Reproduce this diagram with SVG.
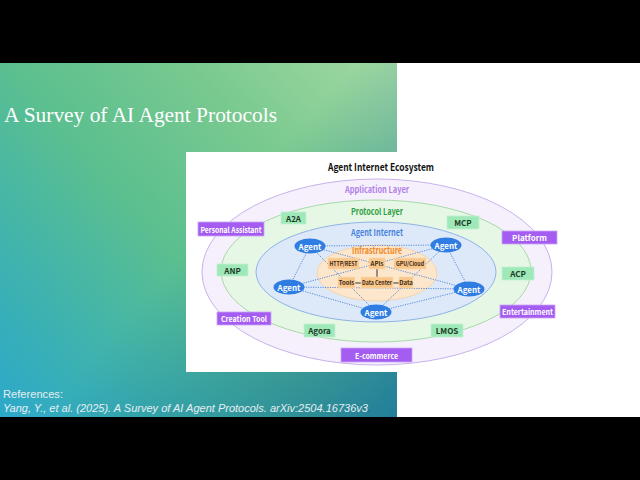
<svg xmlns="http://www.w3.org/2000/svg" width="640" height="480" viewBox="0 0 640 480">
<defs>
<linearGradient id="bg" gradientUnits="userSpaceOnUse" x1="397" y1="63" x2="0" y2="417">
<stop offset="0" stop-color="#a3d9a3"/>
<stop offset="0.3" stop-color="#78c98f"/>
<stop offset="0.55" stop-color="#5bbf8f"/>
<stop offset="0.8" stop-color="#3db2b0"/>
<stop offset="1" stop-color="#2ca8ca"/>
</linearGradient>
<linearGradient id="shade" gradientUnits="userSpaceOnUse" x1="0" y1="63" x2="397" y2="417">
<stop offset="0" stop-color="#0f6d9c" stop-opacity="0"/>
<stop offset="0.5" stop-color="#0f6d9c" stop-opacity="0"/>
<stop offset="1" stop-color="#0f6d9c" stop-opacity="0.8"/>
</linearGradient>
<style>
.lbl{font-family:"Noto Sans CJK SC","Noto Sans",sans-serif;font-weight:700;text-anchor:middle;dominant-baseline:central}
.app rect{fill:#a45df0;stroke:#c9a6f6;stroke-width:0.8}
.app text{fill:#ffffff;font-size:8px}
.pro rect{fill:#9fe8b8;stroke:#c2f0d2;stroke-width:0.8}
.pro text{fill:#1b3a25;font-size:8px}
.inf rect{fill:#f9c68c;stroke:#fbd9b0;stroke-width:0.6}
.inf text{fill:#3a2a14;font-size:6px}
.agent ellipse{fill:#2f7de3}
.agent text{fill:#ffffff;font-size:8px}
.mesh line{stroke:#4a7fd8;stroke-width:0.9;stroke-dasharray:1.2 1.2}
.link line{stroke:#333333;stroke-width:1}
</style>
</defs>
<rect x="0" y="0" width="640" height="480" fill="#ffffff"/>
<rect x="0" y="63" width="397" height="354" fill="url(#bg)"/>
<rect x="0" y="63" width="397" height="354" fill="url(#shade)"/>
<rect x="0" y="0" width="640" height="63" fill="#000000"/>
<rect x="0" y="417" width="640" height="63" fill="#000000"/>
<text x="4" y="122" font-family="Liberation Serif, serif" font-size="21" fill="#ffffff" textLength="273" lengthAdjust="spacingAndGlyphs">A Survey of AI Agent Protocols</text>
<text x="3" y="398" font-family="Liberation Sans, sans-serif" font-size="11.5" fill="#e6eef2" textLength="60" lengthAdjust="spacingAndGlyphs">References:</text>
<text x="3" y="412" font-family="Liberation Sans, sans-serif" font-size="11" font-style="italic" fill="#e6eef2" textLength="368" lengthAdjust="spacingAndGlyphs">Yang, Y., et al. (2025). A Survey of AI Agent Protocols. arXiv:2504.16736v3<tspan fill="#1d5f80">.</tspan></text>

<rect x="186" y="152" width="454" height="220" fill="#ffffff"/>
<g id="layers">
<ellipse id="application-layer" cx="377" cy="272" rx="175" ry="93" fill="#f6f0fd" stroke="#c8b2ec" stroke-width="1"/>
<ellipse id="protocol-layer" cx="376" cy="271" rx="155" ry="71" fill="#e6f7e6" stroke="#a8d9a8" stroke-width="1"/>
<ellipse id="agent-internet" cx="376" cy="272" rx="120" ry="50" fill="#dde9f8" stroke="#8fb3e6" stroke-width="1"/>
<ellipse id="infrastructure" cx="377" cy="273" rx="60" ry="28" fill="#fce6cc" stroke="#f5cfa3" stroke-width="0.8"/>
</g>
<text x="381" y="166" font-family="Noto Sans CJK SC, Noto Sans, sans-serif" font-weight="700" font-size="10.5" fill="#111111" text-anchor="middle" dominant-baseline="central" textLength="106" lengthAdjust="spacingAndGlyphs">Agent Internet Ecosystem</text>
<text class="lbl" x="377" y="189" font-size="9" fill="#b07fe8" textLength="64" lengthAdjust="spacingAndGlyphs">Application Layer</text>
<text class="lbl" x="377" y="211" font-size="9" fill="#2e9e3e" textLength="52" lengthAdjust="spacingAndGlyphs">Protocol Layer</text>
<text class="lbl" x="377" y="232" font-size="9" fill="#4a84e0" textLength="52" lengthAdjust="spacingAndGlyphs">Agent Internet</text>
<text class="lbl" x="377" y="250" font-size="9.5" fill="#f0881e" textLength="50" lengthAdjust="spacingAndGlyphs">Infrastructure</text>

<g id="connectors">
<g class="mesh">
<line x1="310" y1="246" x2="446" y2="245"/>
<line x1="310" y1="246" x2="289" y2="287"/>
<line x1="310" y1="246" x2="469" y2="289"/>
<line x1="310" y1="246" x2="376" y2="312"/>
<line x1="446" y1="245" x2="289" y2="287"/>
<line x1="446" y1="245" x2="469" y2="289"/>
<line x1="446" y1="245" x2="376" y2="312"/>
<line x1="289" y1="287" x2="469" y2="289"/>
<line x1="289" y1="287" x2="376" y2="312"/>
<line x1="469" y1="289" x2="376" y2="312"/>
</g>
<g class="link">
<line x1="355" y1="283" x2="361" y2="283"/>
<line x1="393" y1="283" x2="399" y2="283"/>
<line x1="377" y1="269" x2="377" y2="277"/>
</g>
</g>

<g id="infra-nodes" class="inf lbl">
<g id="http-rest"><rect x="328" y="258" width="31" height="11"/><text x="343.5" y="263.5" textLength="28" lengthAdjust="spacingAndGlyphs">HTTP/REST</text></g>
<g id="apis"><rect x="369" y="258" width="16" height="11"/><text x="377" y="263.5">APIs</text></g>
<g id="gpu-cloud"><rect x="394" y="258" width="32" height="11"/><text x="410" y="263.5" textLength="28" lengthAdjust="spacingAndGlyphs">GPU/Cloud</text></g>
<g id="tools"><rect x="338" y="277" width="17" height="11"/><text x="346.5" y="282.5">Tools</text></g>
<g id="data-center"><rect x="361" y="277" width="32" height="11"/><text x="377" y="282.5" textLength="30" lengthAdjust="spacingAndGlyphs">Data Center</text></g>
<g id="data"><rect x="399" y="277" width="14" height="11"/><text x="406" y="282.5">Data</text></g>
</g>

<g class="agent lbl">
<g id="agent-tl"><ellipse cx="310" cy="246" rx="15.5" ry="7.5"/><text x="310" y="246">Agent</text></g>
<g id="agent-tr"><ellipse cx="446" cy="245" rx="15.5" ry="7.5"/><text x="446" y="245">Agent</text></g>
<g id="agent-l"><ellipse cx="289" cy="287" rx="15.5" ry="7.5"/><text x="289" y="287">Agent</text></g>
<g id="agent-r"><ellipse cx="469" cy="289" rx="15.5" ry="7.5"/><text x="469" y="289">Agent</text></g>
<g id="agent-b"><ellipse cx="376" cy="312" rx="15.5" ry="7.5"/><text x="376" y="312">Agent</text></g>
</g>

<g class="pro lbl">
<g id="a2a"><rect x="281" y="212" width="25" height="12"/><text x="293.5" y="218">A2A</text></g>
<g id="mcp"><rect x="447" y="216" width="32" height="13"/><text x="463" y="222.5">MCP</text></g>
<g id="anp"><rect x="217" y="264" width="31" height="12"/><text x="232.5" y="270">ANP</text></g>
<g id="acp"><rect x="502" y="267" width="32" height="13"/><text x="518" y="273.5">ACP</text></g>
<g id="agora"><rect x="304" y="324" width="31" height="13"/><text x="319.5" y="330.5">Agora</text></g>
<g id="lmos"><rect x="431" y="324" width="32" height="13"/><text x="447" y="330.5">LMOS</text></g>
</g>

<g class="app lbl">
<g id="personal-assistant"><rect x="198" y="222" width="66" height="14"/><text x="231" y="229" textLength="61" lengthAdjust="spacingAndGlyphs">Personal Assistant</text></g>
<g id="platform"><rect x="502" y="231" width="55" height="13"/><text x="529.5" y="237.5">Platform</text></g>
<g id="creation-tool"><rect x="217" y="312" width="54" height="13"/><text x="244" y="318.5" textLength="46" lengthAdjust="spacingAndGlyphs">Creation Tool</text></g>
<g id="entertainment"><rect x="500" y="305" width="55" height="13"/><text x="527.5" y="311.5" textLength="51" lengthAdjust="spacingAndGlyphs">Entertainment</text></g>
<g id="e-commerce"><rect x="341" y="348" width="71" height="14"/><text x="376.5" y="355" textLength="43" lengthAdjust="spacingAndGlyphs">E-commerce</text></g>
</g>
</svg>
